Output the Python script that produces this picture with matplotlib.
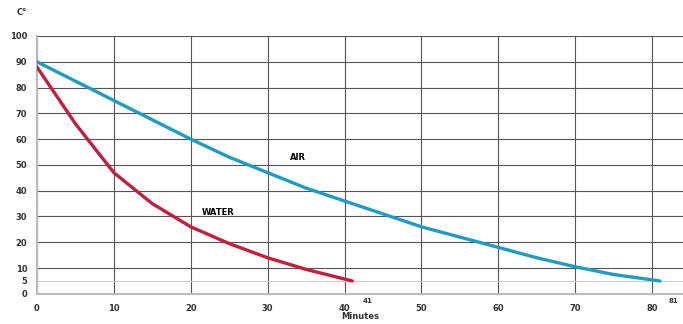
import matplotlib
matplotlib.use('Agg')
import matplotlib.pyplot as plt

# Cooling curves
air_min = [0, 5, 10, 15, 20, 25, 30, 35, 40, 45, 50, 55, 60, 65, 70, 75, 81]
air_temp = [90, 82.5, 75, 67.5, 60, 53, 47, 41, 36, 31, 26, 22, 18, 14, 10.5, 7.5, 5]
water_min = [0, 5, 10, 15, 20, 25, 30, 35, 41]
water_temp = [88, 66, 47, 35, 26, 19.5, 14, 9.5, 5]

x_ticks = [0, 10, 20, 30, 40, 50, 60, 70, 80]
y_ticks = [0, 5, 10, 20, 30, 40, 50, 60, 70, 80, 90, 100]

fig = plt.figure(figsize=(6.83, 3.24), dpi=100)
ax = fig.add_axes([0.054, 0.093, 0.946, 0.796])

ax.plot(air_min, air_temp, color='#1f9cc2', lw=2.4, solid_capstyle='round', zorder=3)
ax.plot(water_min, water_temp, color='#c41e3a', lw=2.4, solid_capstyle='round', zorder=3)

ax.set_xlim(0, 84)
ax.set_ylim(0, 100)
ax.set_xticks(x_ticks)
ax.set_yticks(y_ticks)
ax.tick_params(length=0, labelsize=6, pad=7, colors='#333333')
for lbl in ax.get_xticklabels() + ax.get_yticklabels():
    lbl.set_fontweight('bold')

ax.grid(True, color='#555555', lw=0.8)
# the 5-degree line is only faint in the original
ax.get_ygridlines()[1].set_color('#cccccc')
for s in ['top', 'right']:
    ax.spines[s].set_visible(False)
for s in ['left', 'bottom']:
    ax.spines[s].set_color('#bbbbbb')
    ax.spines[s].set_linewidth(1.5)

ax.text(34, 53, 'AIR', fontsize=6, fontweight='bold', ha='center', va='center')
ax.text(23.5, 31.5, 'WATER', fontsize=6, fontweight='bold', ha='center', va='center')
ax.text(42.3, -3.5, '41', fontsize=5, fontweight='bold', color='#333333', clip_on=False)
ax.text(82.1, -3.5, '81', fontsize=5, fontweight='bold', color='#333333', clip_on=False)
fig.text(0.032, 0.96, 'C°', fontsize=6, fontweight='bold', color='#333333', ha='center', va='center')
fig.text(0.528, 0.022, 'Minutes', fontsize=6, fontweight='bold', color='#333333', ha='center', va='center')

fig.savefig('out.png', dpi=100)
